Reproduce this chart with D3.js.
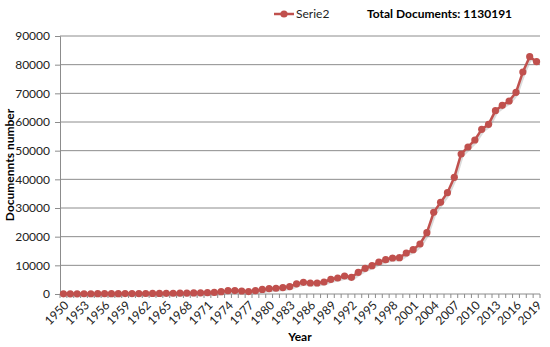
<!DOCTYPE html>
<html lang="en">
<head>
    <meta charset="UTF-8">
    <title>Documents per year</title>
    <script src="https://d3js.org/d3.v7.min.js"></script>
    <style>
        body { margin: 0; background: #fff; }
        text { font-family: Lato, "Open Sans", sans-serif; }
    </style>
</head>
<body>
    <div id="chart"></div>

    <script>
        // Data
        const years = d3.range(1950, 2020);
        const documents = [
            50, 60, 70, 80, 90, 100, 110, 120, 130, 140,
            150, 160, 170, 190, 210, 230, 260, 290, 330, 370,
            420, 470, 560, 800, 1150, 1200, 1050, 850, 1150, 1600,
            1850, 2000, 2250, 2600, 3550, 4070, 3840, 3840, 4190, 5120,
            5580, 6280, 5810, 7560, 8950, 9880, 11160, 11980, 12560, 12670,
            14300, 15460, 17440, 21390, 28490, 31970, 35340, 40700, 48830, 51280,
            53720, 57440, 59190, 63950, 65810, 67330, 70350, 77440, 82790, 81050
        ];
        const yTicks = d3.range(0, 90001, 10000);
        const labelYears = d3.range(1950, 2020, 3);
        const seriesName = "Serie2";
        const totalLabel = "Total Documents: 1130191";

        const width = 550;
        const height = 347;
        const margin = { top: 36, right: 10, bottom: 53, left: 60 };
        const red = "#c0504d";
        const grey = "#8c8c8c";

        const svg = d3.select("#chart")
            .append("svg")
            .attr("width", width)
            .attr("height", height);

        const xScale = d3.scaleBand()
            .domain(years)
            .range([margin.left, width - margin.right])
            .padding(0);

        const yScale = d3.scaleLinear()
            .domain([0, 90000])
            .range([height - margin.bottom, margin.top]);

        const cx = d => xScale(d) + xScale.bandwidth() / 2;

        // gridlines
        svg.append("g")
            .selectAll("line")
            .data(yTicks.filter(t => t > 0))
            .enter()
            .append("line")
            .attr("x1", margin.left)
            .attr("x2", width - margin.right)
            .attr("y1", d => yScale(d))
            .attr("y2", d => yScale(d))
            .attr("stroke", grey)
            .attr("stroke-width", 1);

        // y axis
        const yAxis = svg.append("g")
            .attr("transform", `translate(${margin.left},0)`)
            .call(d3.axisLeft(yScale).tickValues(yTicks).tickSize(5).tickPadding(5).tickFormat(d3.format("d")));
        yAxis.selectAll("line, path").attr("stroke", grey);
        yAxis.selectAll("text").attr("font-size", 12).attr("fill", "#222");

        // x axis: a minor tick at each category edge, labels every 3 years
        const xAxis = svg.append("g")
            .attr("transform", `translate(0,${yScale(0)})`);
        xAxis.append("line")
            .attr("x1", margin.left)
            .attr("x2", width - margin.right)
            .attr("stroke", grey);
        xAxis.selectAll(".minor")
            .data(years.concat([null]))
            .enter()
            .append("line")
            .attr("x1", (d, i) => margin.left + i * xScale.bandwidth())
            .attr("x2", (d, i) => margin.left + i * xScale.bandwidth())
            .attr("y1", 0)
            .attr("y2", 4)
            .attr("stroke", grey);
        xAxis.selectAll(".lbl")
            .data(labelYears)
            .enter()
            .append("text")
            .attr("transform", d => `translate(${cx(d) + 3},${9}) rotate(-45)`)
            .attr("text-anchor", "end")
            .attr("dy", "0.35em")
            .attr("font-size", 12)
            .attr("fill", "#222")
            .text(d => d);

        // axis titles
        svg.append("text")
            .attr("x", 300)
            .attr("y", 341)
            .attr("text-anchor", "middle")
            .attr("font-size", 12)
            .attr("font-weight", "bold")
            .text("Year");

        svg.append("text")
            .attr("transform", `translate(14,${(yScale(0) + yScale(90000)) / 2}) rotate(-90)`)
            .attr("text-anchor", "middle")
            .attr("font-size", 12)
            .attr("font-weight", "bold")
            .text("Documennts number");

        // series line and markers
        const line = d3.line()
            .x((d, i) => cx(years[i]))
            .y(d => yScale(d));

        svg.append("path")
            .datum(documents)
            .attr("fill", "none")
            .attr("stroke", "#999")
            .attr("stroke-opacity", 0.35)
            .attr("stroke-width", 3)
            .attr("transform", "translate(1,2)")
            .attr("d", line);

        svg.append("path")
            .datum(documents)
            .attr("fill", "none")
            .attr("stroke", red)
            .attr("stroke-width", 2.5)
            .attr("d", line);

        svg.append("g")
            .selectAll("circle")
            .data(documents)
            .enter()
            .append("circle")
            .attr("cx", (d, i) => cx(years[i]))
            .attr("cy", d => yScale(d))
            .attr("r", 3.6)
            .attr("fill", red);

        // legend
        const legend = svg.append("g").attr("transform", "translate(274,14)");
        legend.append("line")
            .attr("x1", 0).attr("x2", 20)
            .attr("stroke", red).attr("stroke-width", 2.5);
        legend.append("circle")
            .attr("cx", 10).attr("r", 3.6).attr("fill", red);
        legend.append("text")
            .attr("x", 22)
            .attr("dy", "0.35em")
            .attr("font-size", 12)
            .attr("fill", "#222")
            .text(seriesName);

        svg.append("text")
            .attr("x", 367)
            .attr("y", 14)
            .attr("dy", "0.35em")
            .attr("font-size", 12)
            .attr("font-weight", "bold")
            .text(totalLabel);
    </script>
</body>
</html>
